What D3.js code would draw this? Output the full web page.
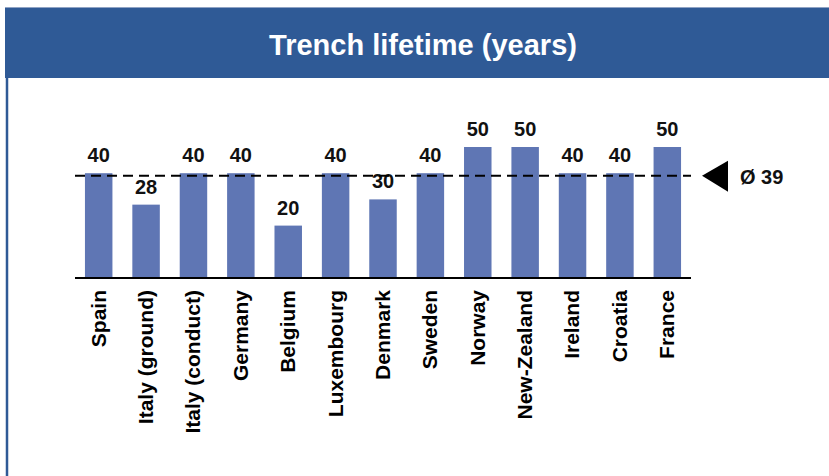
<!DOCTYPE html>
<html>
<head>
<meta charset="utf-8">
<script src="https://cdn.jsdelivr.net/npm/d3@7"></script>
<style>
  html, body { margin: 0; padding: 0; background: #fff; }
  svg { display: block; }
  text { font-family: "Liberation Sans", Arial, sans-serif; }
</style>
</head>
<body>
<svg id="chart" width="829" height="476"></svg>
<script>
const title = "Trench lifetime (years)";
const categories = ["Spain", "Italy (ground)", "Italy (conduct)", "Germany", "Belgium", "Luxembourg", "Denmark", "Sweden", "Norway", "New-Zealand", "Ireland", "Croatia", "France"];
const values = [40, 28, 40, 40, 20, 40, 30, 40, 50, 50, 40, 40, 50];
const average = 39;
const averageLabel = "Ø 39";

const svg = d3.select("#chart");
const W = 829, H = 476;

// header band
svg.append("rect").attr("x", 5).attr("y", 7).attr("width", W - 5).attr("height", 71).attr("fill", "#2F5A96");
svg.append("line").attr("x1", 5).attr("x2", W).attr("y1", 7.5).attr("y2", 7.5).attr("stroke", "#8FA3C4").attr("stroke-width", 1);
// left border
svg.append("line").attr("x1", 7).attr("x2", 7).attr("y1", 78).attr("y2", H).attr("stroke", "#2F5A96").attr("stroke-width", 2.5);

svg.append("text").attr("x", 423).attr("y", 55).attr("text-anchor", "middle")
  .attr("fill", "#fff").attr("font-weight", "bold").attr("font-size", 29).text(title);

const x = d3.scaleBand().domain(categories).range([75, 691]).paddingInner(0.42).paddingOuter(0.21);
const y = d3.scaleLinear().domain([0, 50]).range([278, 147]);

const g = svg.append("g");
g.selectAll("rect.bar").data(values).join("rect").attr("class", "bar")
  .attr("x", (d, i) => x(categories[i]))
  .attr("width", x.bandwidth())
  .attr("y", d => y(d))
  .attr("height", d => y(0) - y(d))
  .attr("fill", "#5F76B4");

g.selectAll("text.val").data(values).join("text").attr("class", "val")
  .attr("x", (d, i) => x(categories[i]) + x.bandwidth() / 2)
  .attr("y", d => y(d) - 11)
  .attr("text-anchor", "middle").attr("font-weight", "bold").attr("font-size", 20)
  .attr("fill", "#111").text(d => d);

// axis
const axis = d3.axisBottom(x).tickSize(0).tickPadding(0);
const ax = svg.append("g").attr("transform", `translate(0,${y(0)})`).call(axis);
ax.select(".domain").attr("stroke", "#000").attr("stroke-width", 2).attr("d", "M75,0H691");
ax.selectAll(".tick text")
  .attr("font-family", "Liberation Sans, Arial, sans-serif")
  .attr("font-size", 21).attr("font-weight", "bold").attr("fill", "#000")
  .attr("text-anchor", "end")
  .attr("transform", "rotate(-90)")
  .attr("x", -12).attr("y", 0).attr("dy", "0.33em");

// average line
svg.append("line").attr("x1", 75).attr("x2", 691).attr("y1", y(average)).attr("y2", y(average))
  .attr("stroke", "#000").attr("stroke-width", 2).attr("stroke-dasharray", "10,6");

const ty = y(average);
svg.append("path").attr("d", `M702,${ty} L728,${ty - 15} L728,${ty + 16} Z`).attr("fill", "#000");
svg.append("text").attr("x", 740).attr("y", ty + 8).attr("font-weight", "bold").attr("font-size", 20)
  .attr("fill", "#111").text(averageLabel);
</script>
</body>
</html>
